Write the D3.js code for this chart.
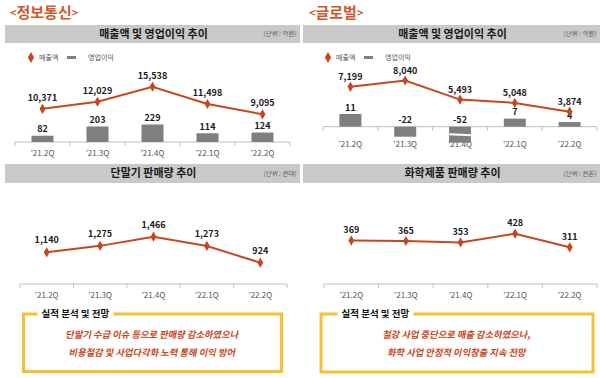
<!DOCTYPE html>
<html><head><meta charset="utf-8">
<script src="https://cdn.jsdelivr.net/npm/d3@7"></script>
<style>
html,body{margin:0;padding:0;background:#fff;}
svg{display:block;font-family:"Noto Sans CJK KR","Noto Sans",sans-serif;}
</style></head>
<body>
<svg id="c" width="600" height="378"></svg>
<script>
const categories = ["'21.2Q", "'21.3Q", "'21.4Q", "'22.1Q", "'22.2Q"];
const itSales = [10371, 12029, 15538, 11498, 9095];
const itProfit = [82, 203, 229, 114, 124];
const glSales = [7199, 8040, 5493, 5048, 3874];
const glProfit = [11, -22, -52, 7, 4];
const handsetVolume = [1140, 1275, 1466, 1273, 924];
const chemVolume = [369, 365, 353, 428, 311];
const sectionTitles = ["정보통신", "글로벌"];
const chartTitles = ["매출액 및 영업이익 추이", "매출액 및 영업이익 추이", "단말기 판매량 추이", "화학제품 판매량 추이"];
const unitLabels = ["(단위 : 억원)", "(단위 : 억원)", "(단위 : 천대)", "(단위 : 천톤)"];
const legendLabels = ["매출액", "영업이익"];
const boxTitle = "실적 분석 및 전망";
const itComment = ["단말기 수급 이슈 등으로 판매량 감소하였으나", "비용절감 및 사업다각화 노력 통해 이익 방어"];
const glComment = ["철강 사업 중단으로 매출 감소하였으나,", "화학 사업 안정적 이익창출 지속 전망"];

const RED = "#C8461E", ORANGE = "#CC5A2E", GRAY = "#7F7F7F", HEAD = "#C9C9C9", GOLD = "#F3C232";
const svg = d3.select("#c");
const fmt = d3.formatLocale({decimal: ".", thousands: ",", grouping: [3], currency: ["", ""], minus: "-"}).format(",");

// section titles
[[10, 0], [309, 1]].forEach(([x, i]) => {
  const t = svg.append("text").attr("x", x).attr("y", 18).attr("font-size", 15).attr("font-weight", 700)
    .attr("fill", ORANGE);
  t.append("tspan").attr("font-size", 11).attr("dy", -1).text("<");
  t.append("tspan").attr("dy", 1).text(sectionTitles[i]);
  t.append("tspan").attr("font-size", 11).attr("dy", -1).text(">");
});

function header(x0, x1, y0, h, title, unit) {
  svg.append("rect").attr("x", x0).attr("y", y0).attr("width", x1 - x0).attr("height", h).attr("fill", HEAD);
  svg.append("text").attr("x", (x0 + x1) / 2 + 1).attr("y", y0 + h / 2).attr("dy", "0.35em")
    .attr("text-anchor", "middle").attr("font-size", 11).attr("font-weight", 700).attr("fill", "#1a1a1a").text(title);
  svg.append("text").attr("x", x1 - 4).attr("y", y0 + h / 2).attr("dy", "0.35em")
    .attr("text-anchor", "end").attr("font-size", 6.5).attr("font-style", "italic").attr("fill", "#555").text(unit);
}
header(5, 300, 25, 18, chartTitles[0], unitLabels[0]);
header(303, 600, 25, 18, chartTitles[1], unitLabels[1]);
header(5, 300, 164, 19, chartTitles[2], unitLabels[2]);
header(303, 600, 164, 19, chartTitles[3], unitLabels[3]);

function legend(x, y) {
  svg.append("path").attr("d", d3.symbol(d3.symbolDiamond, 34)()).attr("transform", `translate(${x},${y})`).attr("fill", RED);
  svg.append("text").attr("x", x + 8).attr("y", y).attr("dy", "0.35em").attr("font-size", 7).attr("fill", "#555").text(legendLabels[0]);
  svg.append("rect").attr("x", x + 36).attr("y", y - 1.5).attr("width", 9).attr("height", 3).attr("fill", GRAY);
  svg.append("text").attr("x", x + 57).attr("y", y).attr("dy", "0.35em").attr("font-size", 7).attr("fill", "#555").text(legendLabels[1]);
}
legend(31, 57.5);
legend(328, 57.5);

function axis(x, yAxis, labelY) {
  const [a, b] = x.range();
  svg.append("line").attr("x1", a).attr("x2", b).attr("y1", yAxis).attr("y2", yAxis).attr("stroke", "#BFBFBF").attr("stroke-width", 1);
  const bounds = categories.map(c => x(c)).concat([b]);
  svg.selectAll(null).data(bounds).enter().append("line")
    .attr("x1", d => d).attr("x2", d => d).attr("y1", yAxis).attr("y2", yAxis + 4)
    .attr("stroke", "#BFBFBF");
  svg.selectAll(null).data(categories).enter().append("text")
    .attr("x", d => x(d) + x.bandwidth() / 2).attr("y", labelY).attr("dy", "0.35em")
    .attr("text-anchor", "middle").attr("font-size", 8).attr("fill", "#555").text(d => d);
}

function line(x, y, values, off) {
  const g = svg.append("g");
  const cx = (d, i) => x(categories[i]) + x.bandwidth() / 2;
  g.append("path").datum(values)
    .attr("d", d3.line().x(cx).y(d => y(d)))
    .attr("fill", "none").attr("stroke", RED).attr("stroke-width", 2);
  g.selectAll(null).data(values).enter().append("path")
    .attr("d", d3.symbol(d3.symbolDiamond, 30)())
    .attr("transform", (d, i) => `translate(${cx(d, i)},${y(d)})`).attr("fill", RED);
  g.selectAll(null).data(values).enter().append("text")
    .attr("x", cx).attr("y", d => y(d) - off).attr("dy", "0.35em")
    .attr("text-anchor", "middle").attr("font-size", 9).attr("font-weight", 700).attr("fill", "#1a1a1a")
    .text(d => fmt(d));
}

function bars(x, y, values, yAxis, brokenIdx) {
  const g = svg.append("g");
  const bw = 22;
  const cx = i => x(categories[i]) + x.bandwidth() / 2;
  g.selectAll(null).data(values).enter().append("rect")
    .attr("x", (d, i) => cx(i) - bw / 2)
    .attr("y", d => Math.min(y(d), y(0)))
    .attr("width", bw).attr("height", d => Math.abs(y(d) - y(0)))
    .attr("fill", GRAY);
  if (brokenIdx != null) {
    const c = cx(brokenIdx), yb = (y(0) + y(values[brokenIdx])) / 2 - 1;
    g.append("path").attr("d", `M${c - bw / 2 - 1},${yb - 0.5}L${c + bw / 2 + 1},${yb + 0.5}L${c + bw / 2 + 1},${yb + 2.5}L${c - bw / 2 - 1},${yb + 1.5}Z`).attr("fill", "#fff");
  }
  g.selectAll(null).data(values).enter().append("text")
    .attr("x", (d, i) => cx(i)).attr("y", d => (d >= 0 ? y(d) : y(0)) - 6.5).attr("dy", "0.35em")
    .attr("text-anchor", "middle").attr("font-size", 9).attr("font-weight", 700).attr("fill", "#1a1a1a")
    .text(d => fmt(d));
}

// top-left: 정보통신 매출액 / 영업이익
{
  const x = d3.scaleBand().domain(categories).range([15, 290]);
  const yAxis = 142;
  axis(x, yAxis, 153.5);
  const yb = d3.scaleLinear().domain([0, d3.max(itProfit)]).range([yAxis, yAxis - 17.5]);
  bars(x, yb, itProfit, yAxis, null);
  const yl = d3.scaleLinear().domain(d3.extent(itSales)).range([114.3, 86.7]);
  line(x, yl, itSales, 11);
}
// top-right: 글로벌 매출액 / 영업이익 (broken value axis for bars)
{
  const x = d3.scaleBand().domain(categories).range([323, 597]);
  const yAxis = 126.7;
  axis(x, yAxis, 144.5);
  const yb = d3.scaleLinear().domain([d3.min(glProfit), -22, 0, d3.max(glProfit)]).range([yAxis + 16, yAxis + 10, yAxis, yAxis - 12.7]);
  bars(x, yb, glProfit, yAxis, glProfit.indexOf(d3.min(glProfit)));
  const yl = d3.scaleLinear().domain(d3.extent(glSales)).range([111.7, 80.5]);
  line(x, yl, glSales, 10);
}
// bottom-left: 단말기 판매량
{
  const x = d3.scaleBand().domain(categories).range([20, 287]);
  const yAxis = 284;
  axis(x, yAxis, 295);
  const yl = d3.scaleLinear().domain(d3.extent(handsetVolume)).range([262.7, 236.7]);
  line(x, yl, handsetVolume, 12);
}
// bottom-right: 화학제품 판매량
{
  const x = d3.scaleBand().domain(categories).range([324, 597]);
  const yAxis = 284;
  axis(x, yAxis, 295);
  const yl = d3.scaleLinear().domain(d3.extent(chemVolume)).range([247.3, 233.7]);
  line(x, yl, chemVolume, 10.5);
}

function box(x0, x1, y0, y1, tx, lines) {
  svg.append("rect").attr("x", x0).attr("y", y0).attr("width", x1 - x0).attr("height", y1 - y0)
    .attr("fill", "none").attr("stroke", GOLD).attr("stroke-width", 3);
  const t = svg.append("text").attr("x", tx).attr("y", y0).attr("dy", "0.35em")
    .attr("font-size", 9.5).attr("font-weight", 700).attr("fill", "#111").text(boxTitle);
  const bb = t.node().getBBox();
  svg.insert("rect", () => t.node()).attr("x", bb.x - 4).attr("y", y0 - 3).attr("width", bb.width + 8).attr("height", 6).attr("fill", "#fff");
  lines.forEach((s, i) => {
    const y = 334.3 + i * 18;
    svg.append("g").attr("transform", `translate(${(x0 + x1) / 2},${y}) skewX(-12)`)
      .append("text").attr("x", 0).attr("y", 0).attr("dy", "0.35em")
      .attr("text-anchor", "middle").attr("font-size", 9.3).attr("font-weight", 700)
      .attr("fill", RED).text(s);
  });
}
box(23.5, 281.5, 314, 371.5, 41.5, itComment);
box(321, 593, 314, 372, 341.5, glComment);
</script>
</body></html>
